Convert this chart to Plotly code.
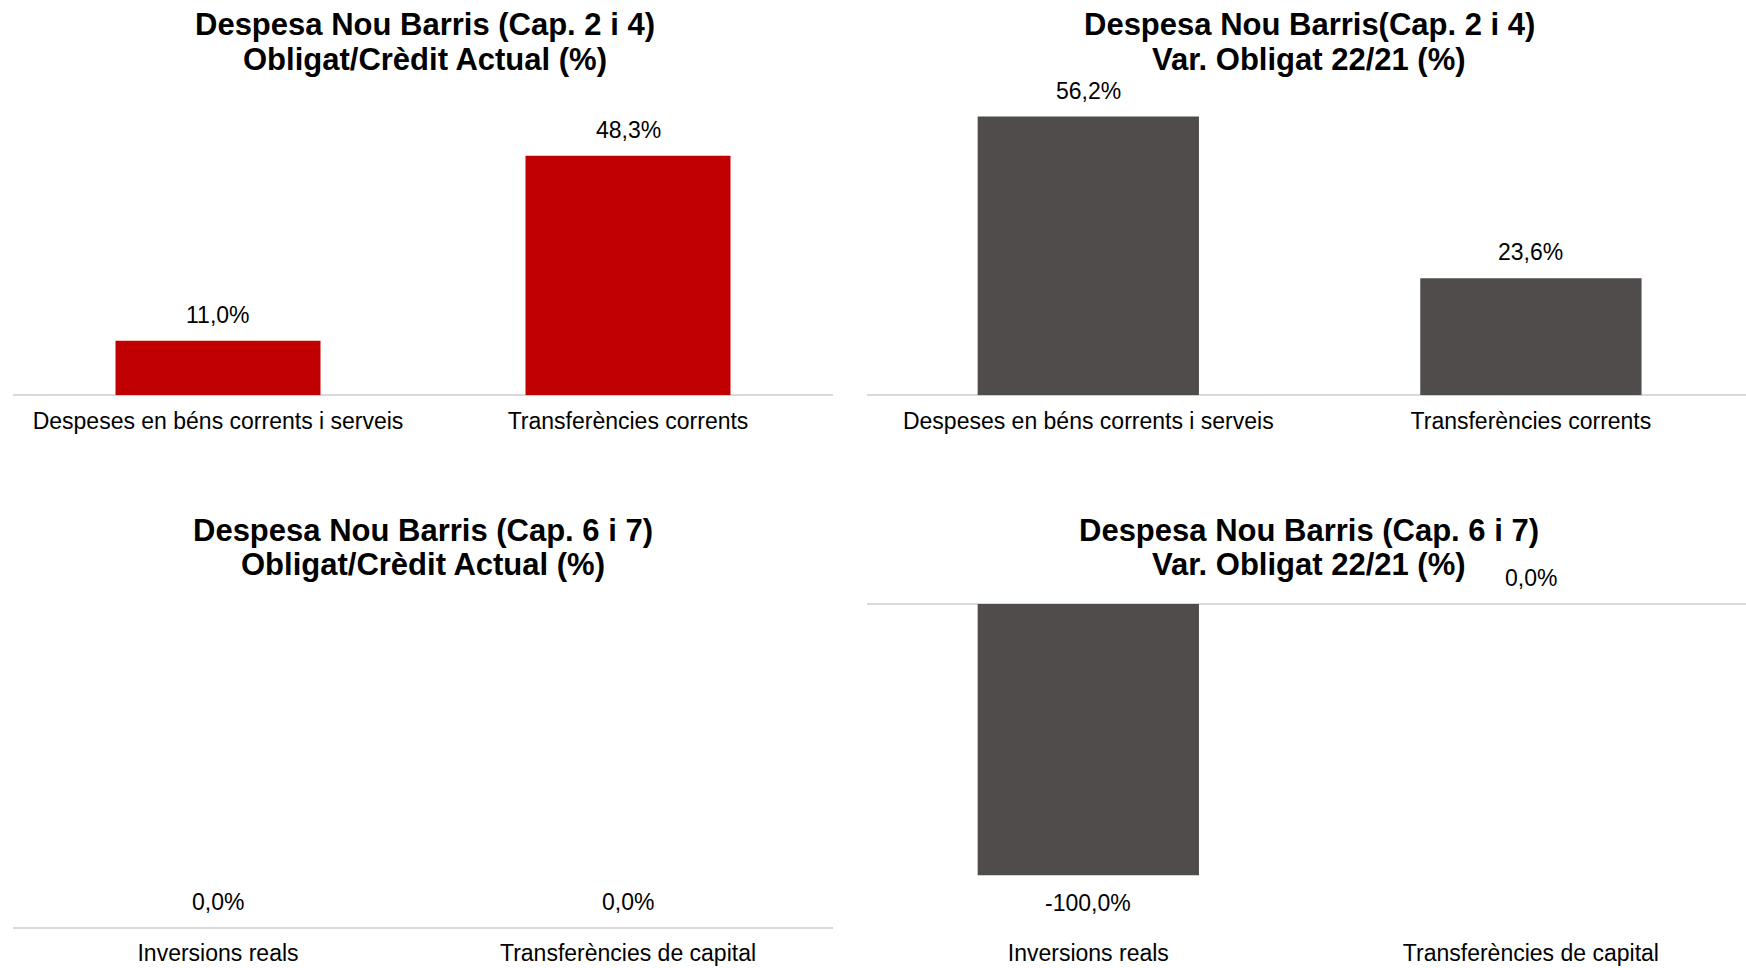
import plotly.graph_objects as go

W, H = 1746, 968

# ---- data ----
cats_cur = ["Despeses en béns corrents i serveis", "Transferències corrents"]
cats_cap = ["Inversions reals", "Transferències de capital"]

oblig_credit_cur = [11.0, 48.3]      # Cap. 2 i 4, Obligat/Crèdit Actual (%)
var_oblig_cur = [56.2, 23.6]         # Cap. 2 i 4, Var. Obligat 22/21 (%)
oblig_credit_cap = [0.0, 0.0]        # Cap. 6 i 7, Obligat/Crèdit Actual (%)
var_oblig_cap = [-100.0, 0.0]        # Cap. 6 i 7, Var. Obligat 22/21 (%)

titles = [
    ("Despesa Nou Barris (Cap. 2 i 4)", "Obligat/Crèdit Actual (%)"),
    ("Despesa Nou Barris(Cap. 2 i 4)", "Var. Obligat 22/21 (%)"),
    ("Despesa Nou Barris (Cap. 6 i 7)", "Obligat/Crèdit Actual (%)"),
    ("Despesa Nou Barris (Cap. 6 i 7)", "Var. Obligat 22/21 (%)"),
]

RED = "#C00000"
GREY = "#504C4B"
FONT = "Liberation Sans, Arial, sans-serif"


def fmt(v):
    return f"{v:.1f}".replace(".", ",") + "%"


def py(px):  # pixel from top -> paper
    return 1 - px / H


def pxx(px):
    return px / W


panels = [
    # (cats, values, color, xdomain(px), ydomain(px top,bottom), yrange, xrange)
    (cats_cur, oblig_credit_cur, RED, (13, 833), (97.7, 395.3), [0, 60], [-0.5, 1.5]),
    (cats_cur, var_oblig_cur, GREY, (867, 1746), (97.7, 395.3), [0, 60], [-0.5, 1.486]),
    (cats_cap, oblig_credit_cap, RED, (13, 833), (620, 927.8), [0, 60], [-0.5, 1.5]),
    (cats_cap, var_oblig_cap, GREY, (867, 1746), (563.3, 927.8), [-119.4, 15], [-0.5, 1.486]),
]

fig = go.Figure()
layout = {}
annotations = []

for i, (cats, vals, color, xd, yd, yr, xr) in enumerate(panels):
    n = "" if i == 0 else str(i + 1)
    xa, ya = "x" + n, "y" + n
    fig.add_trace(go.Bar(
        x=cats, y=vals, marker=dict(color=color, line=dict(width=0)),
        width=0.5, xaxis=xa, yaxis=ya, showlegend=False, hoverinfo="skip",
    ))
    layout["xaxis" + n] = dict(
        domain=[pxx(xd[0]), pxx(xd[1])], anchor=ya, showgrid=False, range=xr,
        showline=False, zeroline=False, ticks="outside", ticklen=5,
        tickcolor="rgba(0,0,0,0)", tickfont=dict(family=FONT, size=23, color="#000"),
        fixedrange=True,
    )
    layout["yaxis" + n] = dict(
        domain=[py(yd[1]), py(yd[0])], anchor=xa, range=yr, showgrid=False,
        showticklabels=False, showline=False, zeroline=True,
        zerolinecolor="#D9D9D9", zerolinewidth=2, fixedrange=True,
    )
    for c, v in zip(cats, vals):
        annotations.append(dict(
            x=c, y=v, xref=xa, yref=ya, text=fmt(v), showarrow=False,
            yanchor="middle", yshift=(26 if v >= 0 else -28),
            font=dict(family=FONT, size=23, color="#000"),
        ))

title_pos = [(425, 25, 59), (1309, 25, 59), (423, 530, 564), (1309, 530, 564)]
for (t1, t2), (cx, y1, y2) in zip(titles, title_pos):
    for t, yy in ((t1, y1), (t2, y2)):
        annotations.append(dict(
            x=pxx(cx), y=py(yy), xref="paper", yref="paper", text=f"<b>{t}</b>",
            showarrow=False, xanchor="center", yanchor="middle",
            font=dict(family=FONT, size=31, color="#000"),
        ))

fig.update_layout(
    width=W, height=H, margin=dict(l=0, r=0, t=0, b=0),
    paper_bgcolor="white", plot_bgcolor="white", bargap=0.5,
    annotations=annotations, **layout,
)

fig.write_html(
    "out.html",
    config={"displayModeBar": False},
    post_script="document.body.style.margin='0';document.body.style.overflow='hidden';",
)
